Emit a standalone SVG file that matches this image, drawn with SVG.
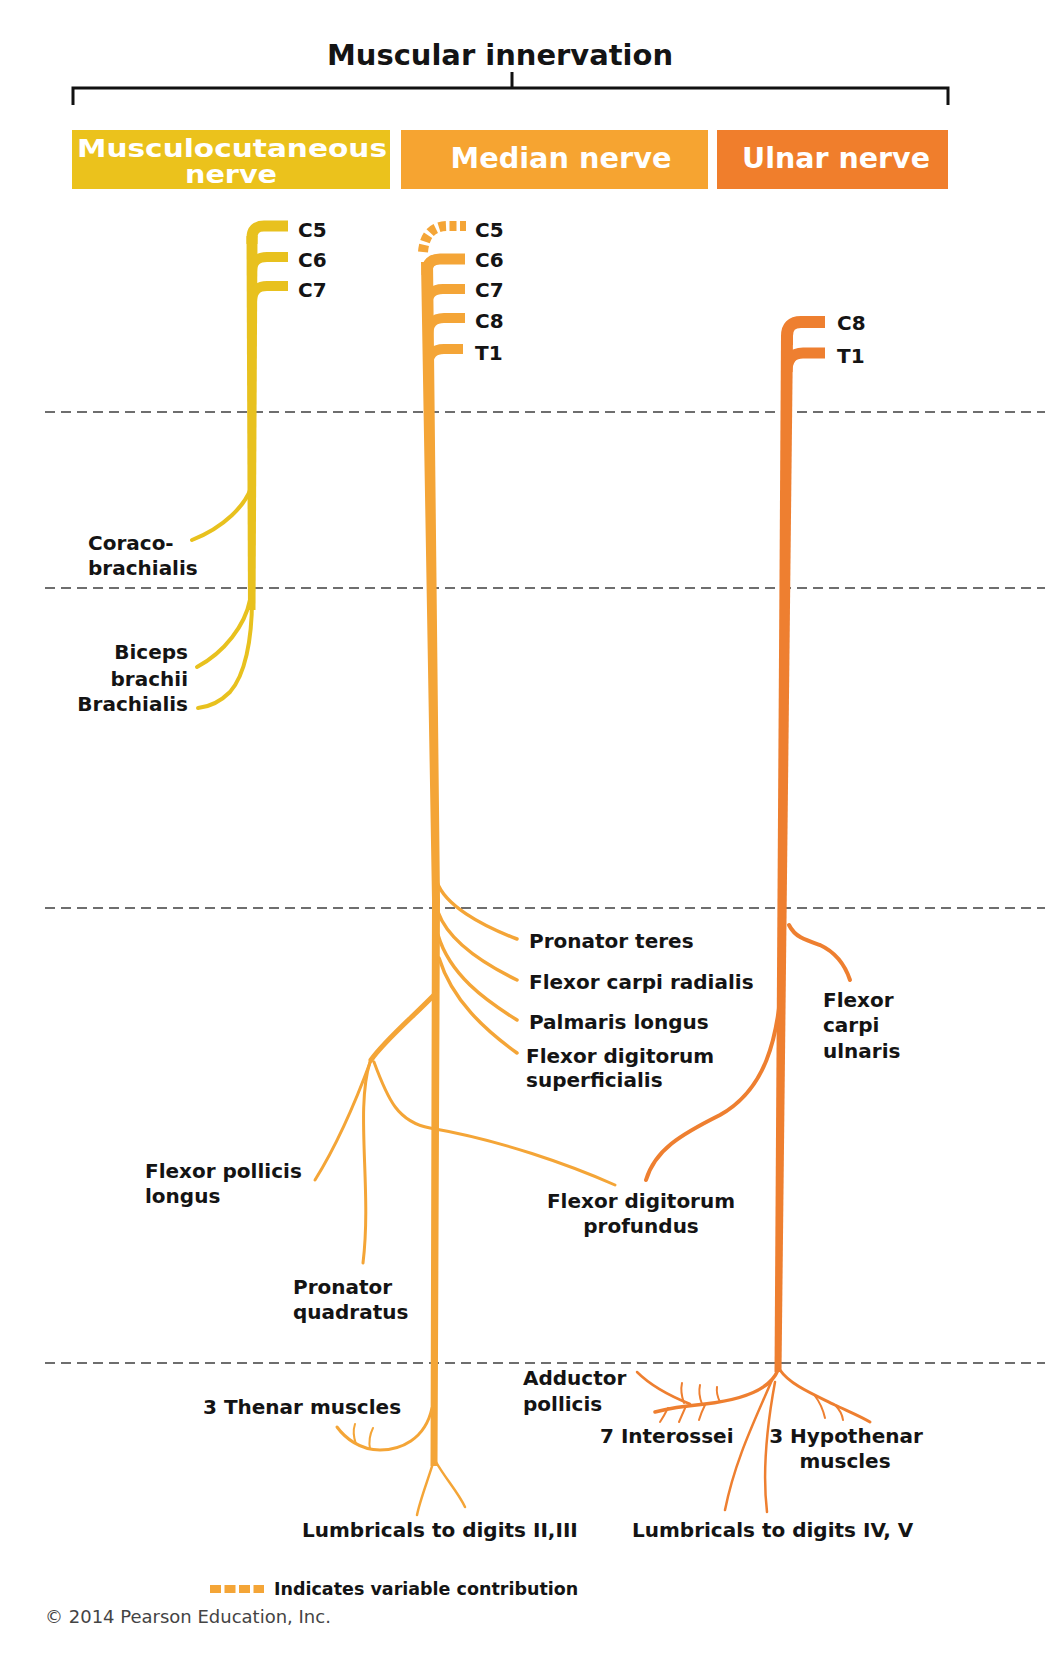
<svg xmlns="http://www.w3.org/2000/svg" width="1059" height="1656" viewBox="0 0 1059 1656">
<style>
.t{font-family:"DejaVu Sans",sans-serif;font-weight:bold;font-size:20px;fill:#141414}
.ttl{font-size:28px}
.hdr{font-size:28px;fill:#ffffff}
.hdr2{font-size:25px;fill:#ffffff}
.cp{font-family:"DejaVu Sans",sans-serif;font-size:18px;fill:#444}
.dash{stroke:#6e6e6e;stroke-width:2;stroke-dasharray:10 6;fill:none}
.mc{stroke:#E8C11E;fill:none;stroke-linecap:round}
.md{stroke:#F4A537;fill:none;stroke-linecap:round}
.ul{stroke:#EE7F30;fill:none;stroke-linecap:round}
.arm{stroke-linecap:butt}
</style>
<rect width="1059" height="1656" fill="#ffffff"/>

<g id="title">
<text class="t ttl" x="500" y="65" text-anchor="middle" textLength="346" lengthAdjust="spacingAndGlyphs">Muscular innervation</text>
<path d="M73 105 V88 H948 V105 M512 72 V88" stroke="#111" stroke-width="3" fill="none"/>
</g>

<g id="box-musculocutaneous">
<rect x="72" y="130" width="318" height="59" fill="#EBC21C"/>
<text class="t hdr2" x="232" y="157" text-anchor="middle" textLength="310" lengthAdjust="spacingAndGlyphs">Musculocutaneous</text>
<text class="t hdr2" x="231" y="183" text-anchor="middle" textLength="92" lengthAdjust="spacingAndGlyphs">nerve</text>
</g>
<g id="box-median">
<rect x="401" y="130" width="307" height="59" fill="#F6A431"/>
<text class="t hdr" x="561" y="168" text-anchor="middle" textLength="221" lengthAdjust="spacingAndGlyphs">Median nerve</text>
</g>
<g id="box-ulnar">
<rect x="717" y="130" width="231" height="59" fill="#F07E2C"/>
<text class="t hdr" x="836" y="168" text-anchor="middle" textLength="188" lengthAdjust="spacingAndGlyphs">Ulnar nerve</text>
</g>

<g id="levels">
<line class="dash" x1="45" y1="412" x2="1045" y2="412"/>
<line class="dash" x1="45" y1="588" x2="1045" y2="588"/>
<line class="dash" x1="45" y1="908" x2="1045" y2="908"/>
<line class="dash" x1="45" y1="1363" x2="1045" y2="1363"/>
</g>

<g id="connectors">
<g id="nerve-musculocutaneous">
<path d="M246.5 236 L257.5 236 L255.5 610 L248 610 Z" fill="#E8C11E"/>
<path class="mc arm" d="M252 244 L252 238 Q252 226 264 226 L288 226" stroke-width="11"/>
<path class="mc arm" d="M252 272 Q252 257 267 257 L288 257" stroke-width="10"/>
<path class="mc arm" d="M252 302 Q252 286 267 286 L288 286" stroke-width="10"/>
<path class="mc" d="M251 488 C245 505 225 527 192 540" stroke-width="4"/>
<path class="mc" d="M250 600 C245 625 225 652 197 667" stroke-width="4"/>
<path class="mc" d="M252 600 C252 640 245 675 230 692 C220 702 208 707 198 708" stroke-width="4"/>
</g>

<g id="nerve-median">
<path d="M421 262 L433 262 L440 900 L437.5 1466 L430.5 1466 L432 900 Z" fill="#F4A537"/>
<path class="md arm" d="M423 252 Q425 227 446 226 L466 226" stroke-width="10" stroke-dasharray="7 3.5"/>
<path class="md arm" d="M427 275 L427 272 Q427 259 440 259 L465 259" stroke-width="11"/>
<path class="md arm" d="M427 306 Q427 289 443 289 L465 289" stroke-width="10"/>
<path class="md arm" d="M428 336 Q428 318 444 318 L465 318" stroke-width="10"/>
<path class="md arm" d="M428 366 Q428 349 444 349 L463 349" stroke-width="10"/>
<path class="md" d="M437 882 C445 905 480 925 517 939" stroke-width="3.5"/>
<path class="md" d="M438 912 C448 940 480 962 517 980" stroke-width="3.5"/>
<path class="md" d="M438 935 C450 975 485 1000 517 1020" stroke-width="3.5"/>
<path class="md" d="M439 958 C452 1000 485 1030 517 1053" stroke-width="3.5"/>
<path class="md" d="M436 993 C415 1015 385 1040 371 1060" stroke-width="5"/>
<path class="md" d="M371 1060 C360 1090 340 1140 315 1180" stroke-width="3"/>
<path class="md" d="M370 1062 C355 1110 372 1190 363 1263" stroke-width="3"/>
<path class="md" d="M374 1062 C388 1100 398 1122 430 1128 C500 1140 570 1165 615 1185" stroke-width="3"/>
<path class="md" d="M432 1408 C425 1440 400 1450 380 1450 C360 1450 345 1438 337 1427" stroke-width="3"/>
<path class="md" d="M356 1444 Q352 1433 355 1424" stroke-width="2"/>
<path class="md" d="M370 1449 Q368 1438 373 1428" stroke-width="2"/>
<path class="md" d="M434 1460 C428 1480 420 1500 417 1515" stroke-width="2.5"/>
<path class="md" d="M436 1462 C445 1478 458 1492 465 1507" stroke-width="2.5"/>
</g>

<g id="nerve-ulnar">
<path d="M781 336 L793 336 L781.5 1372 L774.5 1372 Z" fill="#EE7F30"/>
<path class="ul arm" d="M787 345 L787 336 Q787 322 801 322 L825 322" stroke-width="12"/>
<path class="ul arm" d="M787 372 Q787 353 803 353 L825 353" stroke-width="11"/>
<path class="ul" d="M789 925 C795 937 805 940 820 945 C835 952 845 965 850 980" stroke-width="4"/>
<path class="ul" d="M782 978 C778 1040 765 1090 720 1115 C680 1135 655 1150 646 1180" stroke-width="4"/>
<path class="ul" d="M778 1370 C770 1390 740 1400 705 1404 C685 1406 670 1408 655 1412" stroke-width="3.5"/>
<path class="ul" d="M690 1404 C670 1396 650 1385 637 1372" stroke-width="2.5"/>
<path class="ul" d="M684 1403 Q680 1392 682 1383" stroke-width="2"/>
<path class="ul" d="M702 1404 Q698 1394 700 1385" stroke-width="2"/>
<path class="ul" d="M720 1402 Q716 1394 717 1387" stroke-width="2"/>
<path class="ul" d="M668 1408 Q664 1416 660 1422" stroke-width="2"/>
<path class="ul" d="M686 1406 Q682 1415 679 1422" stroke-width="2"/>
<path class="ul" d="M705 1405 Q701 1413 699 1420" stroke-width="2"/>
<path class="ul" d="M772 1380 C755 1420 735 1460 725 1510" stroke-width="2.5"/>
<path class="ul" d="M775 1382 C768 1420 762 1470 767 1512" stroke-width="2.5"/>
<path class="ul" d="M780 1370 C790 1385 815 1395 835 1405 C850 1412 862 1417 870 1422" stroke-width="3"/>
<path class="ul" d="M815 1396 Q822 1405 825 1418" stroke-width="2"/>
<path class="ul" d="M835 1405 Q842 1412 843 1420" stroke-width="2"/>
</g>
</g>

<g id="roots-musculocutaneous">
<text class="t" x="298" y="237">C5</text>
<text class="t" x="298" y="267">C6</text>
<text class="t" x="298" y="297">C7</text>
</g>
<g id="roots-median">
<text class="t" x="475" y="237">C5</text>
<text class="t" x="475" y="267">C6</text>
<text class="t" x="475" y="297">C7</text>
<text class="t" x="475" y="328">C8</text>
<text class="t" x="475" y="360">T1</text>
</g>
<g id="roots-ulnar">
<text class="t" x="837" y="330">C8</text>
<text class="t" x="837" y="363">T1</text>
</g>

<g id="coracobrachialis"><text class="t" x="88" y="550">Coraco-</text><text class="t" x="88" y="575">brachialis</text></g>
<g id="biceps-brachii"><text class="t" x="188" y="659" text-anchor="end">Biceps</text><text class="t" x="188" y="686" text-anchor="end">brachii</text></g>
<g id="brachialis"><text class="t" x="188" y="711" text-anchor="end">Brachialis</text></g>

<g id="pronator-teres"><text class="t" x="529" y="948">Pronator teres</text></g>
<g id="flexor-carpi-radialis"><text class="t" x="529" y="989">Flexor carpi radialis</text></g>
<g id="palmaris-longus"><text class="t" x="529" y="1029">Palmaris longus</text></g>
<g id="flexor-digitorum-superficialis"><text class="t" x="526" y="1063">Flexor digitorum</text><text class="t" x="526" y="1087">superficialis</text></g>
<g id="flexor-carpi-ulnaris"><text class="t" x="823" y="1007">Flexor</text><text class="t" x="823" y="1032">carpi</text><text class="t" x="823" y="1058">ulnaris</text></g>
<g id="flexor-pollicis-longus"><text class="t" x="145" y="1178">Flexor pollicis</text><text class="t" x="145" y="1203">longus</text></g>
<g id="flexor-digitorum-profundus"><text class="t" x="641" y="1208" text-anchor="middle">Flexor digitorum</text><text class="t" x="641" y="1233" text-anchor="middle">profundus</text></g>
<g id="pronator-quadratus"><text class="t" x="293" y="1294">Pronator</text><text class="t" x="293" y="1319">quadratus</text></g>

<g id="thenar"><text class="t" x="203" y="1414">3 Thenar muscles</text></g>
<g id="adductor-pollicis"><text class="t" x="523" y="1385">Adductor</text><text class="t" x="523" y="1411">pollicis</text></g>
<g id="interossei"><text class="t" x="600" y="1443">7 Interossei</text></g>
<g id="hypothenar"><text class="t" x="846" y="1443" text-anchor="middle">3 Hypothenar</text><text class="t" x="845" y="1468" text-anchor="middle">muscles</text></g>
<g id="lumbricals-2-3"><text class="t" x="302" y="1537">Lumbricals to digits II,III</text></g>
<g id="lumbricals-4-5"><text class="t" x="632" y="1537">Lumbricals to digits IV, V</text></g>

<g id="legend">
<line x1="210" y1="1589" x2="264" y2="1589" stroke="#F4A537" stroke-width="8" stroke-dasharray="11 3.5"/>
<text class="t" x="274" y="1595" style="font-size:17.5px">Indicates variable contribution</text>
</g>
<text class="cp" x="45" y="1623">© 2014 Pearson Education, Inc.</text>
</svg>
